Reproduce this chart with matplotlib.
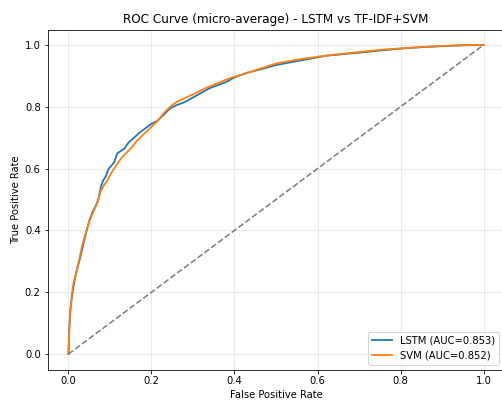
import matplotlib
matplotlib.use("Agg")
import matplotlib.pyplot as plt

lstm_fpr = [0, 0.002, 0.005, 0.01, 0.015, 0.02, 0.028, 0.035, 0.042, 0.05, 0.058, 0.066, 0.072,
            0.078, 0.083, 0.09, 0.097, 0.104, 0.11, 0.118, 0.124, 0.135, 0.145, 0.158, 0.17, 0.185,
            0.2, 0.215, 0.23, 0.245, 0.26, 0.28, 0.3, 0.32, 0.34, 0.36, 0.38, 0.4, 0.43, 0.46, 0.5,
            0.54, 0.58, 0.62, 0.66, 0.7, 0.75, 0.8, 0.85, 0.9, 0.95, 1.0]
lstm_tpr = [0, 0.08, 0.15, 0.2, 0.24, 0.27, 0.31, 0.35, 0.39, 0.43, 0.46, 0.48, 0.5,
            0.54, 0.56, 0.575, 0.6, 0.61, 0.62, 0.65, 0.655, 0.665, 0.685, 0.70, 0.715, 0.73,
            0.745, 0.755, 0.775, 0.795, 0.805, 0.815, 0.83, 0.845, 0.86, 0.87, 0.88, 0.895, 0.91, 0.92, 0.935,
            0.945, 0.955, 0.965, 0.97, 0.975, 0.982, 0.988, 0.993, 0.996, 0.999, 1.0]

svm_fpr = [0, 0.002, 0.004, 0.008, 0.012, 0.018, 0.025, 0.032, 0.04, 0.048, 0.055, 0.063, 0.07,
           0.077, 0.085, 0.095, 0.105, 0.115, 0.125, 0.135, 0.15, 0.165, 0.18, 0.2, 0.215, 0.23,
           0.245, 0.26, 0.28, 0.3, 0.33, 0.36, 0.39, 0.42, 0.45, 0.5, 0.55, 0.6, 0.65, 0.7, 0.75,
           0.8, 0.85, 0.9, 0.95, 1.0]
svm_tpr = [0, 0.07, 0.13, 0.19, 0.23, 0.26, 0.30, 0.345, 0.385, 0.42, 0.445, 0.47, 0.49,
           0.525, 0.545, 0.565, 0.59, 0.61, 0.63, 0.645, 0.665, 0.69, 0.71, 0.735, 0.755, 0.78,
           0.80, 0.815, 0.828, 0.84, 0.86, 0.877, 0.893, 0.905, 0.918, 0.94, 0.952, 0.962, 0.97, 0.977, 0.984,
           0.989, 0.993, 0.997, 0.999, 1.0]

lstm_auc = 0.853
svm_auc = 0.852

dpi = 72
fig = plt.figure(figsize=(502 / dpi, 400 / dpi), dpi=dpi)
ax = fig.add_axes([0.095, 0.07625, 0.9096, 0.85])
ax.plot(lstm_fpr, lstm_tpr, lw=1.8, label=f"LSTM (AUC={lstm_auc:.3f})")
ax.plot(svm_fpr, svm_tpr, lw=1.8, label=f"SVM (AUC={svm_auc:.3f})")
ax.plot([0, 1], [0, 1], linestyle="--", color="gray", lw=1.6)
ax.set_xlabel("False Positive Rate")
ax.set_ylabel("True Positive Rate")
ax.set_title("ROC Curve (micro-average) - LSTM vs TF-IDF+SVM")
ax.grid(True, alpha=0.3)
ax.legend(loc="lower right")
fig.savefig("out.png", dpi=dpi)
